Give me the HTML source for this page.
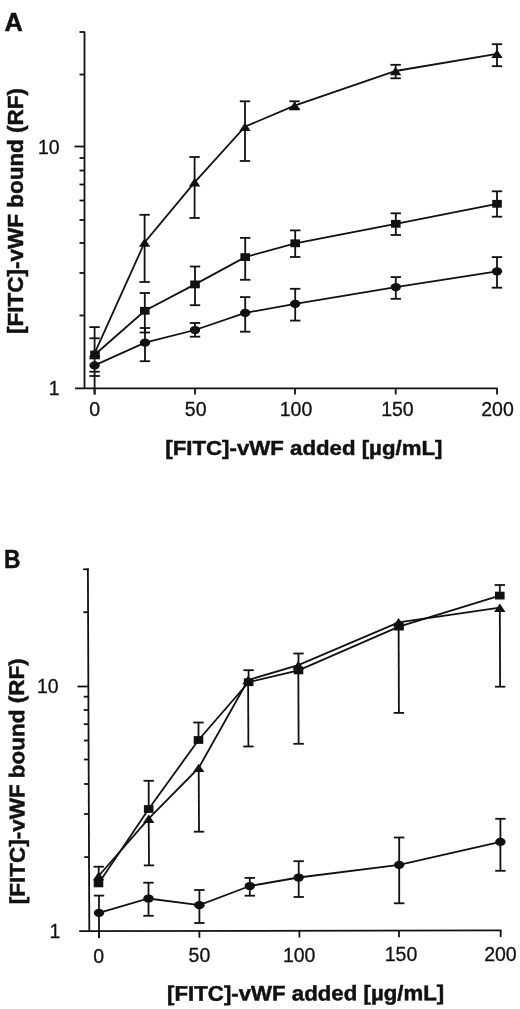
<!DOCTYPE html>
<html lang="en"><head><meta charset="utf-8"><title>Figure</title>
<style>
html,body{margin:0;padding:0;background:#fff;}
svg{display:block;}
text{font-family:"Liberation Sans",sans-serif;fill:#111;}
</style></head>
<body>
<svg width="520" height="1009" viewBox="0 0 520 1009">
<rect x="0" y="0" width="520" height="1009" fill="#ffffff" stroke="none"/>
<g stroke="#111" fill="#111" stroke-linecap="butt">
<line x1="84.5" y1="31.5" x2="84.5" y2="389.0" stroke-width="1.8"/>
<line x1="75.0" y1="388.3" x2="497.7" y2="388.3" stroke-width="1.8"/>
<line x1="79.5" y1="32.0" x2="84.5" y2="32.0" stroke-width="1.8"/>
<line x1="74.5" y1="146.5" x2="84.5" y2="146.5" stroke-width="1.8"/>
<line x1="79.5" y1="74.5" x2="84.5" y2="74.5" stroke-width="1.8"/>
<line x1="79.5" y1="158.0" x2="84.5" y2="158.0" stroke-width="1.8"/>
<line x1="79.5" y1="170.5" x2="84.5" y2="170.5" stroke-width="1.8"/>
<line x1="79.5" y1="184.5" x2="84.5" y2="184.5" stroke-width="1.8"/>
<line x1="79.5" y1="200.5" x2="84.5" y2="200.5" stroke-width="1.8"/>
<line x1="79.5" y1="220.0" x2="84.5" y2="220.0" stroke-width="1.8"/>
<line x1="79.5" y1="243.0" x2="84.5" y2="243.0" stroke-width="1.8"/>
<line x1="79.5" y1="273.0" x2="84.5" y2="273.0" stroke-width="1.8"/>
<line x1="79.5" y1="315.5" x2="84.5" y2="315.5" stroke-width="1.8"/>
<line x1="94.6" y1="388.3" x2="94.6" y2="394.5" stroke-width="1.8"/>
<line x1="195.0" y1="388.3" x2="195.0" y2="394.5" stroke-width="1.8"/>
<line x1="295.0" y1="388.3" x2="295.0" y2="394.5" stroke-width="1.8"/>
<line x1="395.7" y1="388.3" x2="395.7" y2="394.5" stroke-width="1.8"/>
<line x1="497.0" y1="388.3" x2="497.0" y2="394.5" stroke-width="1.8"/>
<polyline fill="none" stroke-width="1.8" points="94.8,352.8 144.6,242.5 194.6,182.3 245.0,126.7 294.6,105.6 395.6,71.0 497.0,53.8"/>
<line x1="144.6" y1="214.8" x2="144.6" y2="282.0" stroke-width="1.8"/>
<line x1="139.4" y1="214.8" x2="149.8" y2="214.8" stroke-width="1.8"/>
<line x1="139.4" y1="282.0" x2="149.8" y2="282.0" stroke-width="1.8"/>
<line x1="194.6" y1="157.0" x2="194.6" y2="218.0" stroke-width="1.8"/>
<line x1="189.4" y1="157.0" x2="199.8" y2="157.0" stroke-width="1.8"/>
<line x1="189.4" y1="218.0" x2="199.8" y2="218.0" stroke-width="1.8"/>
<line x1="245.0" y1="101.3" x2="245.0" y2="161.0" stroke-width="1.8"/>
<line x1="239.8" y1="101.3" x2="250.2" y2="101.3" stroke-width="1.8"/>
<line x1="239.8" y1="161.0" x2="250.2" y2="161.0" stroke-width="1.8"/>
<line x1="294.6" y1="101.3" x2="294.6" y2="109.4" stroke-width="1.8"/>
<line x1="289.4" y1="101.3" x2="299.8" y2="101.3" stroke-width="1.8"/>
<line x1="289.4" y1="109.4" x2="299.8" y2="109.4" stroke-width="1.8"/>
<line x1="395.6" y1="64.8" x2="395.6" y2="78.3" stroke-width="1.8"/>
<line x1="390.4" y1="64.8" x2="400.8" y2="64.8" stroke-width="1.8"/>
<line x1="390.4" y1="78.3" x2="400.8" y2="78.3" stroke-width="1.8"/>
<line x1="497.0" y1="44.2" x2="497.0" y2="66.2" stroke-width="1.8"/>
<line x1="491.8" y1="44.2" x2="502.2" y2="44.2" stroke-width="1.8"/>
<line x1="491.8" y1="66.2" x2="502.2" y2="66.2" stroke-width="1.8"/>
<polygon stroke="none" points="94.8,348.6 100.5,357.0 89.1,357.0"/>
<polygon stroke="none" points="144.6,238.3 150.3,246.7 138.9,246.7"/>
<polygon stroke="none" points="194.6,178.1 200.3,186.5 188.9,186.5"/>
<polygon stroke="none" points="245.0,122.5 250.7,130.9 239.3,130.9"/>
<polygon stroke="none" points="294.6,101.4 300.3,109.8 288.9,109.8"/>
<polygon stroke="none" points="395.6,66.8 401.3,75.2 389.9,75.2"/>
<polygon stroke="none" points="497.0,49.6 502.7,58.0 491.3,58.0"/>
<polyline fill="none" stroke-width="1.8" points="95.0,354.5 144.8,310.8 195.0,284.4 245.2,257.1 295.2,243.3 395.8,223.8 497.0,203.8"/>
<line x1="144.8" y1="293.0" x2="144.8" y2="332.5" stroke-width="1.8"/>
<line x1="139.6" y1="293.0" x2="150.0" y2="293.0" stroke-width="1.8"/>
<line x1="139.6" y1="332.5" x2="150.0" y2="332.5" stroke-width="1.8"/>
<line x1="195.0" y1="266.5" x2="195.0" y2="305.2" stroke-width="1.8"/>
<line x1="189.8" y1="266.5" x2="200.2" y2="266.5" stroke-width="1.8"/>
<line x1="189.8" y1="305.2" x2="200.2" y2="305.2" stroke-width="1.8"/>
<line x1="245.2" y1="237.9" x2="245.2" y2="279.8" stroke-width="1.8"/>
<line x1="240.0" y1="237.9" x2="250.4" y2="237.9" stroke-width="1.8"/>
<line x1="240.0" y1="279.8" x2="250.4" y2="279.8" stroke-width="1.8"/>
<line x1="295.2" y1="230.4" x2="295.2" y2="257.0" stroke-width="1.8"/>
<line x1="290.0" y1="230.4" x2="300.4" y2="230.4" stroke-width="1.8"/>
<line x1="290.0" y1="257.0" x2="300.4" y2="257.0" stroke-width="1.8"/>
<line x1="395.8" y1="213.3" x2="395.8" y2="235.0" stroke-width="1.8"/>
<line x1="390.6" y1="213.3" x2="401.0" y2="213.3" stroke-width="1.8"/>
<line x1="390.6" y1="235.0" x2="401.0" y2="235.0" stroke-width="1.8"/>
<line x1="497.0" y1="191.3" x2="497.0" y2="216.7" stroke-width="1.8"/>
<line x1="491.8" y1="191.3" x2="502.2" y2="191.3" stroke-width="1.8"/>
<line x1="491.8" y1="216.7" x2="502.2" y2="216.7" stroke-width="1.8"/>
<rect stroke="none" x="90.2" y="350.6" width="9.6" height="7.8"/>
<rect stroke="none" x="140.0" y="306.9" width="9.6" height="7.8"/>
<rect stroke="none" x="190.2" y="280.5" width="9.6" height="7.8"/>
<rect stroke="none" x="240.4" y="253.2" width="9.6" height="7.8"/>
<rect stroke="none" x="290.4" y="239.4" width="9.6" height="7.8"/>
<rect stroke="none" x="391.0" y="219.9" width="9.6" height="7.8"/>
<rect stroke="none" x="492.2" y="199.9" width="9.6" height="7.8"/>
<polyline fill="none" stroke-width="1.8" points="94.6,365.4 145.0,342.7 195.0,330.0 245.2,312.9 295.2,303.8 395.8,287.1 497.0,271.3"/>
<line x1="145.0" y1="328.0" x2="145.0" y2="361.2" stroke-width="1.8"/>
<line x1="139.8" y1="328.0" x2="150.2" y2="328.0" stroke-width="1.8"/>
<line x1="139.8" y1="361.2" x2="150.2" y2="361.2" stroke-width="1.8"/>
<line x1="195.0" y1="323.0" x2="195.0" y2="336.7" stroke-width="1.8"/>
<line x1="189.8" y1="323.0" x2="200.2" y2="323.0" stroke-width="1.8"/>
<line x1="189.8" y1="336.7" x2="200.2" y2="336.7" stroke-width="1.8"/>
<line x1="245.2" y1="297.1" x2="245.2" y2="331.7" stroke-width="1.8"/>
<line x1="240.0" y1="297.1" x2="250.4" y2="297.1" stroke-width="1.8"/>
<line x1="240.0" y1="331.7" x2="250.4" y2="331.7" stroke-width="1.8"/>
<line x1="295.2" y1="288.8" x2="295.2" y2="320.6" stroke-width="1.8"/>
<line x1="290.0" y1="288.8" x2="300.4" y2="288.8" stroke-width="1.8"/>
<line x1="290.0" y1="320.6" x2="300.4" y2="320.6" stroke-width="1.8"/>
<line x1="395.8" y1="277.1" x2="395.8" y2="298.8" stroke-width="1.8"/>
<line x1="390.6" y1="277.1" x2="401.0" y2="277.1" stroke-width="1.8"/>
<line x1="390.6" y1="298.8" x2="401.0" y2="298.8" stroke-width="1.8"/>
<line x1="497.0" y1="257.1" x2="497.0" y2="287.7" stroke-width="1.8"/>
<line x1="491.8" y1="257.1" x2="502.2" y2="257.1" stroke-width="1.8"/>
<line x1="491.8" y1="287.7" x2="502.2" y2="287.7" stroke-width="1.8"/>
<ellipse stroke="none" cx="94.6" cy="365.4" rx="5.2" ry="4.1"/>
<ellipse stroke="none" cx="145.0" cy="342.7" rx="5.2" ry="4.1"/>
<ellipse stroke="none" cx="195.0" cy="330.0" rx="5.2" ry="4.1"/>
<ellipse stroke="none" cx="245.2" cy="312.9" rx="5.2" ry="4.1"/>
<ellipse stroke="none" cx="295.2" cy="303.8" rx="5.2" ry="4.1"/>
<ellipse stroke="none" cx="395.8" cy="287.1" rx="5.2" ry="4.1"/>
<ellipse stroke="none" cx="497.0" cy="271.3" rx="5.2" ry="4.1"/>
<line x1="94.6" y1="327.0" x2="94.6" y2="394.5" stroke-width="1.8"/>
<line x1="89.4" y1="327.1" x2="99.8" y2="327.1" stroke-width="1.8"/>
<line x1="89.4" y1="338.3" x2="99.8" y2="338.3" stroke-width="1.8"/>
<line x1="89.4" y1="358.4" x2="99.8" y2="358.4" stroke-width="1.8"/>
<line x1="89.4" y1="371.7" x2="99.8" y2="371.7" stroke-width="1.8"/>
<line x1="89.4" y1="376.0" x2="99.8" y2="376.0" stroke-width="1.8"/>
<line x1="87.9" y1="568.4" x2="89.3" y2="931.9" stroke-width="1.8"/>
<line x1="79.2" y1="931.2" x2="501.4" y2="930.4" stroke-width="1.8"/>
<line x1="83.2" y1="569.3" x2="88.6" y2="569.3" stroke-width="1.8"/>
<line x1="77.5" y1="686.5" x2="88.0" y2="686.5" stroke-width="1.8"/>
<line x1="83.4" y1="612.2" x2="88.1" y2="612.2" stroke-width="1.8"/>
<line x1="83.7" y1="696.7" x2="88.4" y2="696.7" stroke-width="1.8"/>
<line x1="83.7" y1="710.0" x2="88.4" y2="710.0" stroke-width="1.8"/>
<line x1="83.8" y1="724.2" x2="88.5" y2="724.2" stroke-width="1.8"/>
<line x1="83.9" y1="740.5" x2="88.6" y2="740.5" stroke-width="1.8"/>
<line x1="83.9" y1="759.5" x2="88.6" y2="759.5" stroke-width="1.8"/>
<line x1="84.0" y1="784.0" x2="88.7" y2="784.0" stroke-width="1.8"/>
<line x1="84.1" y1="814.0" x2="88.8" y2="814.0" stroke-width="1.8"/>
<line x1="84.3" y1="857.1" x2="89.0" y2="857.1" stroke-width="1.8"/>
<line x1="99.0" y1="931.2" x2="99.0" y2="937.9" stroke-width="1.8"/>
<line x1="199.4" y1="931.0" x2="199.4" y2="937.7" stroke-width="1.8"/>
<line x1="299.4" y1="930.8" x2="299.4" y2="937.5" stroke-width="1.8"/>
<line x1="399.0" y1="930.6" x2="399.0" y2="937.3" stroke-width="1.8"/>
<line x1="500.7" y1="930.4" x2="500.7" y2="937.1" stroke-width="1.8"/>
<polyline fill="none" stroke-width="1.8" points="98.5,883.4 148.7,809.0 198.5,740.0 248.6,682.2 298.5,670.4 399.0,626.6 499.8,595.6"/>
<polyline fill="none" stroke-width="1.8" points="98.6,876.0 148.7,818.7 198.7,767.9 248.1,680.0 298.3,665.2 398.6,622.3 499.8,607.7"/>
<polyline fill="none" stroke-width="1.8" points="99.0,912.9 148.5,898.5 199.4,905.2 249.8,886.0 298.7,877.5 399.2,864.8 500.4,841.9"/>
<line x1="148.7" y1="780.8" x2="148.7" y2="809.0" stroke-width="1.8"/>
<line x1="143.5" y1="780.8" x2="153.9" y2="780.8" stroke-width="1.8"/>
<line x1="198.5" y1="722.5" x2="198.5" y2="740.0" stroke-width="1.8"/>
<line x1="193.3" y1="722.5" x2="203.7" y2="722.5" stroke-width="1.8"/>
<line x1="248.6" y1="670.2" x2="248.6" y2="682.2" stroke-width="1.8"/>
<line x1="243.4" y1="670.2" x2="253.8" y2="670.2" stroke-width="1.8"/>
<line x1="298.5" y1="653.5" x2="298.5" y2="670.4" stroke-width="1.8"/>
<line x1="293.3" y1="653.5" x2="303.7" y2="653.5" stroke-width="1.8"/>
<line x1="499.8" y1="585.0" x2="499.8" y2="595.6" stroke-width="1.8"/>
<line x1="494.6" y1="585.0" x2="505.0" y2="585.0" stroke-width="1.8"/>
<line x1="148.7" y1="818.7" x2="149.0" y2="865.4" stroke-width="1.8"/>
<line x1="143.8" y1="865.4" x2="154.2" y2="865.4" stroke-width="1.8"/>
<line x1="198.7" y1="767.9" x2="199.0" y2="831.7" stroke-width="1.8"/>
<line x1="193.8" y1="831.7" x2="204.2" y2="831.7" stroke-width="1.8"/>
<line x1="248.1" y1="680.0" x2="248.4" y2="746.5" stroke-width="1.8"/>
<line x1="243.2" y1="746.5" x2="253.6" y2="746.5" stroke-width="1.8"/>
<line x1="298.3" y1="665.2" x2="298.6" y2="743.8" stroke-width="1.8"/>
<line x1="293.4" y1="743.8" x2="303.8" y2="743.8" stroke-width="1.8"/>
<line x1="398.6" y1="622.3" x2="398.9" y2="712.9" stroke-width="1.8"/>
<line x1="393.7" y1="712.9" x2="404.1" y2="712.9" stroke-width="1.8"/>
<line x1="499.8" y1="607.7" x2="500.1" y2="686.7" stroke-width="1.8"/>
<line x1="494.9" y1="686.7" x2="505.3" y2="686.7" stroke-width="1.8"/>
<line x1="98.7" y1="866.7" x2="98.7" y2="880.0" stroke-width="1.8"/>
<line x1="93.5" y1="866.7" x2="103.9" y2="866.7" stroke-width="1.8"/>
<line x1="99.0" y1="895.6" x2="99.0" y2="937.9" stroke-width="1.8"/>
<line x1="93.8" y1="895.6" x2="104.2" y2="895.6" stroke-width="1.8"/>
<line x1="148.5" y1="882.7" x2="148.5" y2="915.8" stroke-width="1.8"/>
<line x1="143.3" y1="882.7" x2="153.7" y2="882.7" stroke-width="1.8"/>
<line x1="143.3" y1="915.8" x2="153.7" y2="915.8" stroke-width="1.8"/>
<line x1="199.4" y1="890.0" x2="199.4" y2="923.0" stroke-width="1.8"/>
<line x1="194.2" y1="890.0" x2="204.6" y2="890.0" stroke-width="1.8"/>
<line x1="194.2" y1="923.0" x2="204.6" y2="923.0" stroke-width="1.8"/>
<line x1="249.8" y1="877.9" x2="249.8" y2="895.7" stroke-width="1.8"/>
<line x1="244.6" y1="877.9" x2="255.0" y2="877.9" stroke-width="1.8"/>
<line x1="244.6" y1="895.7" x2="255.0" y2="895.7" stroke-width="1.8"/>
<line x1="298.7" y1="861.2" x2="298.7" y2="897.0" stroke-width="1.8"/>
<line x1="293.5" y1="861.2" x2="303.9" y2="861.2" stroke-width="1.8"/>
<line x1="293.5" y1="897.0" x2="303.9" y2="897.0" stroke-width="1.8"/>
<line x1="399.2" y1="837.5" x2="399.2" y2="903.3" stroke-width="1.8"/>
<line x1="394.0" y1="837.5" x2="404.4" y2="837.5" stroke-width="1.8"/>
<line x1="394.0" y1="903.3" x2="404.4" y2="903.3" stroke-width="1.8"/>
<line x1="500.4" y1="818.8" x2="500.4" y2="870.8" stroke-width="1.8"/>
<line x1="495.2" y1="818.8" x2="505.6" y2="818.8" stroke-width="1.8"/>
<line x1="495.2" y1="870.8" x2="505.6" y2="870.8" stroke-width="1.8"/>
<polygon stroke="none" points="98.6,871.8 104.3,880.2 92.9,880.2"/>
<polygon stroke="none" points="148.7,814.5 154.4,822.9 143.0,822.9"/>
<polygon stroke="none" points="198.7,763.7 204.4,772.1 193.0,772.1"/>
<polygon stroke="none" points="248.1,675.8 253.8,684.2 242.4,684.2"/>
<polygon stroke="none" points="298.3,661.0 304.0,669.4 292.6,669.4"/>
<polygon stroke="none" points="398.6,618.1 404.3,626.5 392.9,626.5"/>
<polygon stroke="none" points="499.8,603.5 505.5,611.9 494.1,611.9"/>
<rect stroke="none" x="93.7" y="879.5" width="9.6" height="7.8"/>
<rect stroke="none" x="143.9" y="805.1" width="9.6" height="7.8"/>
<rect stroke="none" x="193.7" y="736.1" width="9.6" height="7.8"/>
<rect stroke="none" x="243.8" y="678.3" width="9.6" height="7.8"/>
<rect stroke="none" x="293.7" y="666.5" width="9.6" height="7.8"/>
<rect stroke="none" x="394.2" y="622.7" width="9.6" height="7.8"/>
<rect stroke="none" x="495.0" y="591.7" width="9.6" height="7.8"/>
<ellipse stroke="none" cx="99.0" cy="912.9" rx="5.2" ry="4.1"/>
<ellipse stroke="none" cx="148.5" cy="898.5" rx="5.2" ry="4.1"/>
<ellipse stroke="none" cx="199.4" cy="905.2" rx="5.2" ry="4.1"/>
<ellipse stroke="none" cx="249.8" cy="886.0" rx="5.2" ry="4.1"/>
<ellipse stroke="none" cx="298.7" cy="877.5" rx="5.2" ry="4.1"/>
<ellipse stroke="none" cx="399.2" cy="864.8" rx="5.2" ry="4.1"/>
<ellipse stroke="none" cx="500.4" cy="841.9" rx="5.2" ry="4.1"/>
</g>
<g stroke="#111" stroke-width="0.3">
<text x="4.5" y="30.8" font-size="25.3" text-anchor="start" font-weight="700" stroke="#111" stroke-width="0.5">A</text>
<text transform="translate(3.9 567.8) scale(0.9 1)" font-size="25.3" font-weight="700" stroke="#111" stroke-width="0.5">B</text>
<text x="94.8" y="416.2" font-size="19.5" text-anchor="middle">0</text>
<text x="195.7" y="416.2" font-size="19.5" text-anchor="middle">50</text>
<text x="296" y="416.2" font-size="19.5" text-anchor="middle">100</text>
<text x="397.4" y="416.2" font-size="19.5" text-anchor="middle">150</text>
<text x="497.5" y="416.2" font-size="19.5" text-anchor="middle">200</text>
<text x="59.6" y="153.9" font-size="19.4" text-anchor="end">10</text>
<text x="59.6" y="395" font-size="19.4" text-anchor="end">1</text>
<text x="98.6" y="962.6" font-size="19.5" text-anchor="middle">0</text>
<text x="199.4" y="962.2" font-size="19.5" text-anchor="middle">50</text>
<text x="299.2" y="961.8" font-size="19.5" text-anchor="middle">100</text>
<text x="401" y="961.4" font-size="19.5" text-anchor="middle">150</text>
<text x="500.4" y="961" font-size="19.5" text-anchor="middle">200</text>
<text x="58.6" y="692.6" font-size="19.4" text-anchor="end">10</text>
<text x="60.3" y="938" font-size="19.4" text-anchor="end">1</text>
<text id="xlA" transform="translate(165.3 455) scale(1 0.95)" font-size="22.25" font-weight="700" stroke="#111" stroke-width="0.5">[FITC]-vWF added [µg/mL]</text>
<text id="xlB" transform="translate(167.1 1000.8) rotate(-0.15) scale(1 0.95)" font-size="22.25" font-weight="700" stroke="#111" stroke-width="0.5">[FITC]-vWF added [µg/mL]</text>
<text id="ylA" font-size="22.5" font-weight="700" stroke="#111" stroke-width="0.5" transform="translate(23.3 334) rotate(-90) scale(1 0.96)">[FITC]-vWF bound (RF)</text>
<text id="ylB" font-size="22.5" font-weight="700" stroke="#111" stroke-width="0.5" transform="translate(24.8 904.3) rotate(-90.2) scale(1 0.95)">[FITC]-vWF bound (RF)</text>
</g>
</svg>
</body></html>
